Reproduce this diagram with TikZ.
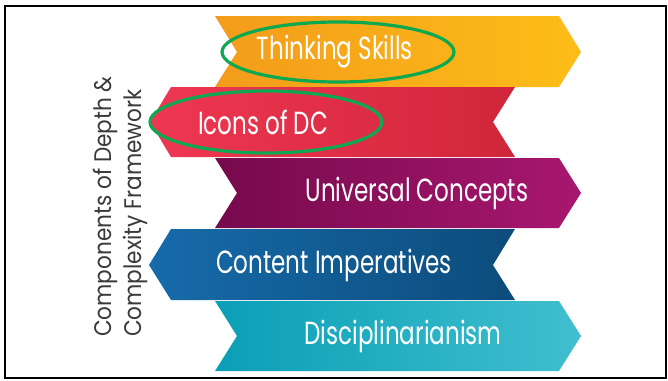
\documentclass[tikz,border=0pt]{standalone}
\usepackage{fontspec}
\newfontfamily\bannerfont[FakeStretch=0.72]{Poppins}
\newfontfamily\sidefont[FakeStretch=0.9]{Poppins}

\definecolor{orangeL}{HTML}{F39C1B}
\definecolor{orangeR}{HTML}{FDBD18}
\definecolor{redL}{HTML}{EF3752}
\definecolor{redR}{HTML}{D0263A}
\definecolor{purpleL}{HTML}{760A4C}
\definecolor{purpleR}{HTML}{A8176F}
\definecolor{blueL}{HTML}{176BAA}
\definecolor{blueR}{HTML}{0C4C7C}
\definecolor{tealL}{HTML}{0A9FB6}
\definecolor{tealR}{HTML}{40BFCF}
\definecolor{ringgreen}{HTML}{0DA84F}
\definecolor{sidegray}{HTML}{3A3A3A}

\begin{document}
\begin{tikzpicture}[x=1pt, y=-1pt,
    banner/.style={text=white, font=\bannerfont\fontsize{32}{32}\selectfont},
    ring/.style={draw=ringgreen, line width=3.2pt},
    sidetext/.style={text=sidegray, font=\sidefont\fontsize{24}{30}\selectfont, align=left}]
        \useasboundingbox (0,0) rectangle (668,380);
        \draw [line width=2.4pt] (5,6) rectangle (666,378);
        % ribbons, top to bottom
        \shade [left color=orangeL, right color=orangeR] (215,16) -- (559,16) -- (581,52) -- (559,87) -- (215,87) -- (237,52) -- cycle;
        \shade [left color=redL, right color=redR] (171,87) -- (515,87) -- (493,122) -- (515,157) -- (171,157) -- (150,122) -- cycle;
        \shade [left color=purpleL, right color=purpleR] (215,158) -- (559,158) -- (581,193) -- (559,228) -- (215,228) -- (237,193) -- cycle;
        \shade [left color=blueL, right color=blueR] (171,229) -- (515,229) -- (493,265) -- (515,300) -- (171,300) -- (149,265) -- cycle;
        \shade [left color=tealL, right color=tealR] (215,301) -- (559,301) -- (581,336) -- (559,371) -- (215,371) -- (237,336) -- cycle;
        % labels
        \node [banner] (thinking) at (335,52) {Thinking Skills};
        \node [banner] (icons) at (263,122) {Icons of DC};
        \node [banner] (universal) at (417,193) {Universal Concepts};
        \node [banner] (content) at (334,265) {Content Imperatives};
        \node [banner] (disc) at (403,336) {Disciplinarianism};
        % highlight rings
        \draw [ring] (338,52) ellipse [x radius=116, y radius=30];
        \draw [ring] (266,122) ellipse [x radius=116, y radius=31];
        \node [sidetext, rotate=90, anchor=north west, inner sep=0pt] (framework) at (93,337) {Components of Depth \&\\Complexity Framework};
    \end{tikzpicture}
\end{document}
